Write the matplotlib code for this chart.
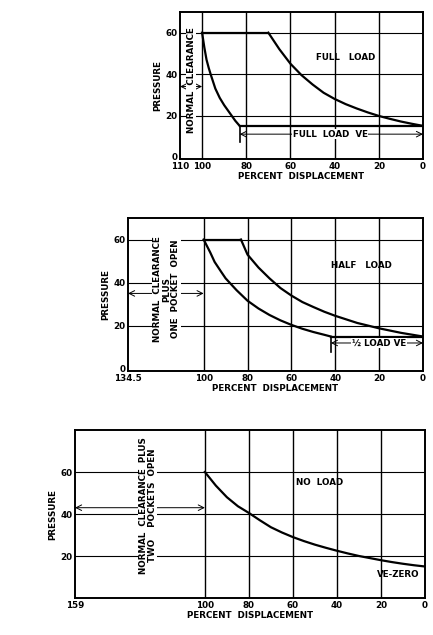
import matplotlib
matplotlib.use("Agg")
import matplotlib.pyplot as plt

plt.rcParams['font.family'] = ['DejaVu Sans']
plt.rcParams['font.weight'] = 'bold'

# Full load
fl_comp_x = [70, 65, 60, 55, 50, 45, 40, 35, 30, 25, 20, 15, 10, 5, 0]
fl_comp_y = [60, 52, 45, 39.5, 35, 31, 28, 25.5, 23.4, 21.5, 19.8, 18.4, 17.1, 16, 15]
fl_exp_x = [100, 99, 98, 97, 96, 94, 92, 90, 88, 87, 85, 83]
fl_exp_y = [60, 53, 47, 43, 39.5, 33, 28.5, 25, 22, 20.5, 17.5, 15]
# Half load
hl_comp_x = [83, 80, 75, 70, 65, 60, 55, 50, 45, 40, 30, 20, 10, 0]
hl_comp_y = [60, 53, 47, 42, 37.5, 34, 31, 28.7, 26.5, 24.6, 21.3, 18.8, 16.7, 15]
hl_exp_x = [100, 97, 95, 92, 90, 85, 80, 75, 70, 65, 60, 55, 50, 45, 42]
hl_exp_y = [60, 54, 49.6, 45, 42, 36.5, 31.6, 28, 25, 22.5, 20.4, 18.6, 17.1, 15.8, 15]
# No load
nl_x = [100, 95, 90, 85, 80, 75, 70, 65, 60, 55, 50, 45, 40, 35, 30, 25, 20, 15, 10, 5, 0]
nl_y = [60, 53.5, 48, 43.7, 40.5, 37, 33.7, 31.2, 29, 27.1, 25.4, 23.9, 22.5, 21.2, 20, 19, 18, 17.1, 16.3, 15.6, 15]

W, H = 433, 635
fig = plt.figure(figsize=(W/100, H/100), dpi=100)

def mkax(l, r, t, b):
    return fig.add_axes([l/W, 1-b/H, (r-l)/W, (b-t)/H])

FS = 6.3
kw = dict(fontsize=FS, fontweight='bold')
box = dict(facecolor='white', edgecolor='none', pad=0.5)

def style(ax, xl, yl, xt, xtl, yt, ytl):
    ax.set_xlim(*xl); ax.set_ylim(*yl)
    ax.set_xticks(xt); ax.set_xticklabels(xtl, **kw)
    ax.set_yticks(yt); ax.set_yticklabels(ytl, **kw)
    for x in [100, 80, 60, 40, 20]:
        ax.axvline(x, color='black', lw=1.0)
    for y in [20, 40, 60]:
        ax.axhline(y, color='black', lw=0.8)
    for s in ax.spines.values():
        s.set_linewidth(1.4)
    ax.tick_params(length=0, pad=2)
    ax.set_xlabel('PERCENT  DISPLACEMENT', labelpad=1, **kw)
    ax.set_ylabel('PRESSURE', labelpad=2, **kw)

def arrow(ax, x0, x1, y):
    ax.annotate('', xy=(x0, y), xytext=(x1, y),
                arrowprops=dict(arrowstyle='<->', lw=0.7, color='black', shrinkA=0, shrinkB=0))

# Top
ax = mkax(180, 423, 12, 159)
style(ax, (110, 0), (-1, 70), [110, 100, 80, 60, 40, 20, 0], ['110', '100', '80', '60', '40', '20', '0'],
      [0, 20, 40, 60], ['0', '20', '40', '60'])
ax.plot(fl_comp_x, fl_comp_y, color='black', lw=1.6)
ax.plot(fl_exp_x, fl_exp_y, color='black', lw=1.6)
ax.plot([100, 70], [60, 60], color='black', lw=1.6)
ax.plot([83, 0], [15, 15], color='black', lw=1.6)
ax.plot([83, 83], [15, 7], color='black', lw=1.2)
arrow(ax, 83, 0, 11)
ax.text(42, 11, 'FULL  LOAD  VE', ha='center', va='center', bbox=box, **kw)
ax.text(35, 48, 'FULL   LOAD', ha='center', va='center', **kw)
arrow(ax, 110, 100, 34)
ax.text(105, 37, 'NORMAL  CLEARANCE', rotation=90, ha='center', va='center', bbox=box, **kw)

# Middle
ax = mkax(128, 423, 218, 371)
style(ax, (134.5, 0), (-1, 70), [134.5, 100, 80, 60, 40, 20, 0], ['134.5', '100', '80', '60', '40', '20', '0'],
      [0, 20, 40, 60], ['0', '20', '40', '60'])
ax.plot(hl_comp_x, hl_comp_y, color='black', lw=1.6)
ax.plot(hl_exp_x, hl_exp_y, color='black', lw=1.6)
ax.plot([100, 83], [60, 60], color='black', lw=1.6)
ax.plot([42, 0], [15, 15], color='black', lw=1.6)
ax.plot([42, 42], [15, 8], color='black', lw=1.2)
arrow(ax, 42, 0, 12)
ax.text(20, 12, '½ LOAD VE', ha='center', va='center', bbox=box, **kw)
ax.text(28, 48, 'HALF   LOAD', ha='center', va='center', **kw)
arrow(ax, 134.5, 100, 35)
ax.text(117, 37, 'NORMAL  CLEARANCE\nPLUS\nONE  POCKET  OPEN', rotation=90, ha='center', va='center',
        linespacing=1.0, bbox=box, **kw)

# Bottom
ax = mkax(75, 425, 430, 598)
style(ax, (159, 0), (0, 80), [159, 100, 80, 60, 40, 20, 0], ['159', '100', '80', '60', '40', '20', '0'],
      [20, 40, 60], ['20', '40', '60'])
ax.plot(nl_x, nl_y, color='black', lw=1.6)
arrow(ax, 159, 100, 43)
ax.text(126, 44, 'NORMAL  CLEARANCE  PLUS\nTWO    POCKETS  OPEN', rotation=90, ha='center', va='center',
        linespacing=1.0, bbox=box, **kw)
ax.text(48, 55, 'NO  LOAD', ha='center', va='center', **kw)
ax.text(12, 11, 'VE-ZERO', ha='center', va='center', **kw)

fig.savefig('out.png', dpi=100, facecolor='white')
